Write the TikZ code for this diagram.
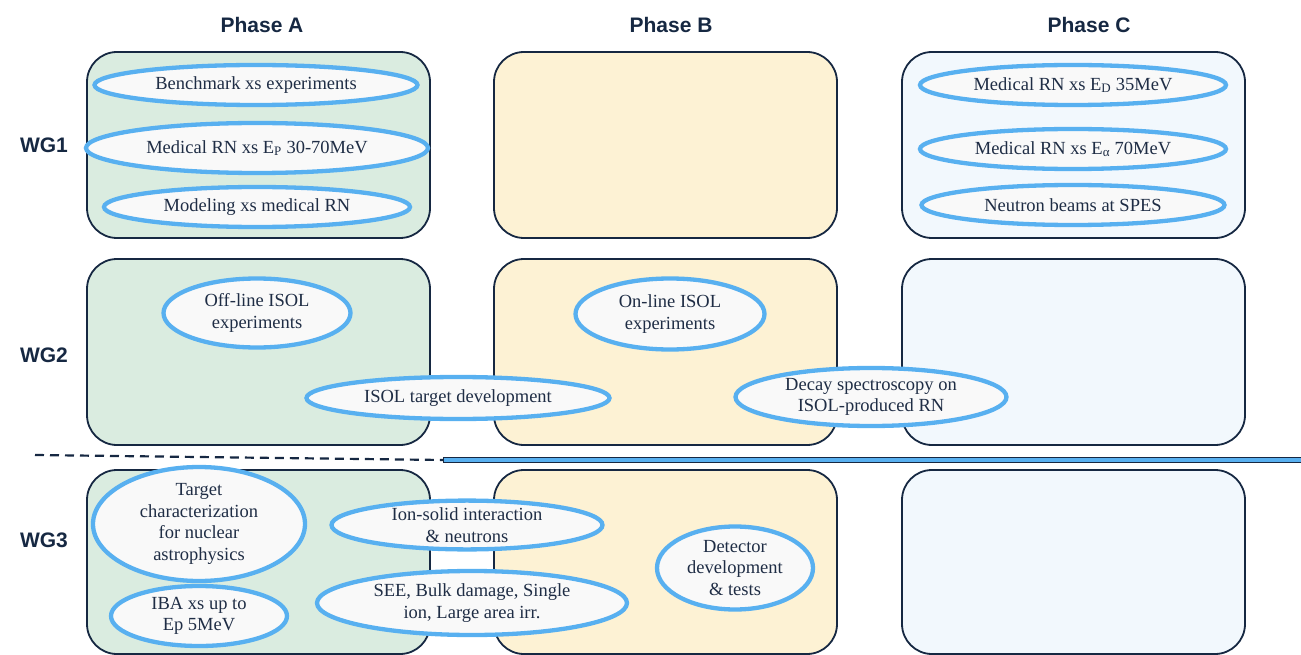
\documentclass[tikz,border=0pt]{standalone}
\usepackage{fontspec}
\setmainfont{Liberation Serif}
\newfontfamily\headfont{Liberation Sans}
\usetikzlibrary{shapes.geometric}
\definecolor{navy}{HTML}{162842}
\definecolor{inktext}{HTML}{1F2D45}
\definecolor{ringblue}{HTML}{58B0F0}
\definecolor{ringfill}{HTML}{F9F9F9}
\definecolor{fillA}{HTML}{DAECE0}
\definecolor{fillB}{HTML}{FDF2D4}
\definecolor{fillC}{HTML}{F2F8FD}
\begin{document}
\begin{tikzpicture}[x=1pt, y=-1pt,
    head/.style = {font=\headfont\bfseries\fontsize{21}{25}\selectfont, text=navy},
    phasebox/.style = {draw=navy, line width=1.8pt, rounded corners=30pt, minimum width=343pt, minimum height=186pt, inner sep=0pt},
    task/.style = {draw=ringblue, fill=ringfill, ellipse, line width=4.3pt, inner sep=0pt, align=center, text=inktext, font=\fontsize{18.5}{21.5}\selectfont}]
            \useasboundingbox (0,0) rectangle (1301,655);
            \node[head] (pa) at (262,25) {Phase A};
            \node[head] (pb) at (671,25) {Phase B};
            \node[head] (pc) at (1089,25) {Phase C};
            \node[head] (wg1) at (44,145) {WG1};
            \node[head] (wg2) at (44,355) {WG2};
            \node[head] (wg3) at (44,540) {WG3};
            \node[phasebox, fill=fillA] (a1) at (258.5,145) {};
            \node[phasebox, fill=fillB] (b1) at (665.5,145) {};
            \node[phasebox, fill=fillC] (c1) at (1073.5,145) {};
            \node[phasebox, fill=fillA] (a2) at (258.5,352) {};
            \node[phasebox, fill=fillB] (b2) at (665.5,352) {};
            \node[phasebox, fill=fillC] (c2) at (1073.5,352) {};
            \node[phasebox, fill=fillA, minimum height=184pt] (a3) at (258.5,562) {};
            \node[phasebox, fill=fillB, minimum height=184pt] (b3) at (665.5,562) {};
            \node[phasebox, fill=fillC, minimum height=184pt] (c3) at (1073.5,562) {};
            \coordinate (dstart) at (35,455);
            \node[draw=navy, fill=ringblue, line width=1.2pt, minimum width=862pt, minimum height=5.5pt, inner sep=0pt, anchor=west] (bar) at (443,460) {};
            \draw[navy, line width=2.2pt, dash pattern=on 9pt off 6pt] (dstart) -- (bar.west);
            \node[task, minimum width=323pt, minimum height=40pt] (bench) at (256,85) {Benchmark xs experiments};
            \node[task, minimum width=342pt, minimum height=50pt] (medp) at (257,148) {Medical RN xs E\textsubscript{P} 30-70MeV};
            \node[task, minimum width=306pt, minimum height=40pt] (model) at (257,207) {Modeling xs medical RN};
            \node[task, minimum width=306pt, minimum height=40pt] (medd) at (1073,85) {Medical RN xs E\textsubscript{D} 35MeV};
            \node[task, minimum width=306pt, minimum height=40pt] (meda) at (1073,149) {Medical RN xs E\textsubscript{α} 70MeV};
            \node[task, minimum width=303pt, minimum height=40pt] (neutron) at (1073,205) {Neutron beams at SPES};
            \node[task, minimum width=187pt, minimum height=69pt] (offline) at (257,313) {Off-line ISOL\\experiments};
            \node[task, minimum width=189pt, minimum height=71pt] (online) at (670,314) {On-line ISOL\\experiments};
            \node[task, minimum width=303pt, minimum height=42pt] (target) at (458,398) {ISOL target development};
            \node[task, minimum width=271pt, minimum height=58pt] (decay) at (871,397) {Decay spectroscopy on\\ISOL-produced RN};
            \node[task, minimum width=212pt, minimum height=92pt] (astro) at (199,524) {Target\\characterization\\for nuclear\\astrophysics};
            \node[task, minimum width=176pt, minimum height=60pt] (iba) at (199,616) {IBA xs up to\\Ep 5MeV};
            \node[task, minimum width=271pt, minimum height=46pt] (ionsolid) at (467,525) {Ion-solid interaction\\\& neutrons};
            \node[task, minimum width=310pt, minimum height=64pt] (see) at (472,603) {SEE, Bulk damage, Single\\ion, Large area irr.};
            \node[task, minimum width=156pt, minimum height=83pt] (detector) at (735,568) {Detector\\development\\\& tests};
        \end{tikzpicture}
\end{document}
